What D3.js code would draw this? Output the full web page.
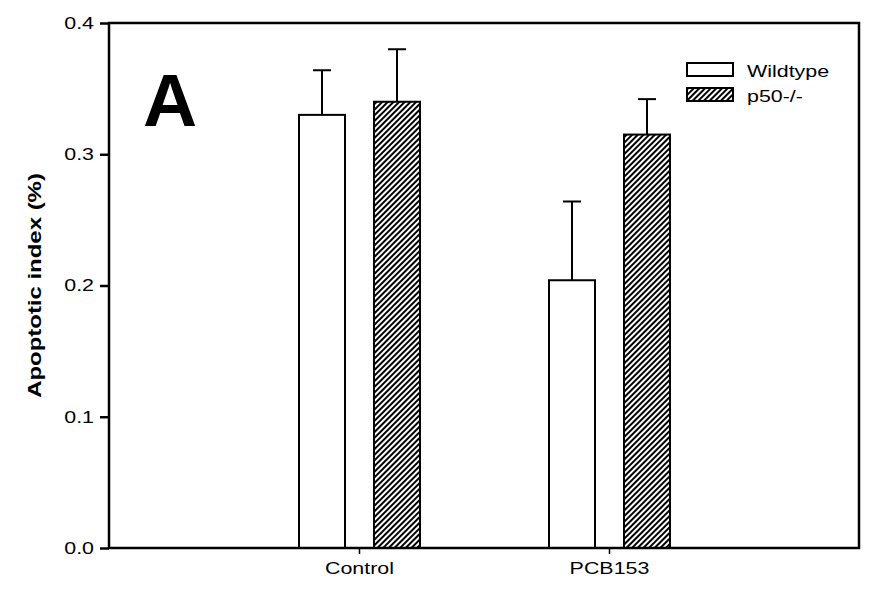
<!DOCTYPE html>
<html>
<head>
<meta charset="utf-8">
<script src="https://cdn.jsdelivr.net/npm/d3@7"></script>
<style>
  body { margin: 0; background: #fff; }
  svg text { font-family: "Liberation Sans", Arial, sans-serif; }
</style>
</head>
<body>
<div id="chart"></div>
<script>
// data
const categories = ["Control", "PCB153"];
const seriesNames = ["Wildtype", "p50-/-"];
const wildtypeMeans = [0.33, 0.204];
const wildtypeErr = [0.034, 0.06];
const p50Means = [0.34, 0.315];
const p50Err = [0.04, 0.027];
const yTicks = [0.0, 0.1, 0.2, 0.3, 0.4];

const width = 878, height = 597;
const margin = { top: 23, right: 19, bottom: 49, left: 109 };
const innerW = width - margin.left - margin.right;
const innerH = height - margin.top - margin.bottom;
const stretch = 1.26; // the original lettering is wide

const svg = d3.select("#chart").append("svg")
    .attr("width", width)
    .attr("height", height);

// hatch pattern for p50-/-
const defs = svg.append("defs");
const pat = defs.append("pattern")
    .attr("id", "hatch")
    .attr("patternUnits", "userSpaceOnUse")
    .attr("width", 4)
    .attr("height", 4)
    .attr("patternTransform", "rotate(45)");
pat.append("rect").attr("width", 4).attr("height", 4).attr("fill", "#fff");
pat.append("rect").attr("x", 0).attr("width", 2.2).attr("height", 4).attr("fill", "#000")
    .attr("shape-rendering", "crispEdges");

const g = svg.append("g").attr("transform", `translate(${margin.left},${margin.top})`);

const x = d3.scalePoint().domain(categories).range([0, innerW]).padding(1);
const y = d3.scaleLinear().domain([0, 0.4]).range([innerH, 0]);

const barW = 46;
const offsets = [-60, 15]; // left edge of each bar relative to group centre

const rows = categories.map((c, i) => ({
    cat: c,
    bars: [
        { s: 0, v: wildtypeMeans[i], e: wildtypeErr[i] },
        { s: 1, v: p50Means[i], e: p50Err[i] }
    ]
}));

// error bars (drawn first so bar outline sits on top)
rows.forEach(r => {
    r.bars.forEach(b => {
        const cx = x(r.cat) + offsets[b.s] + barW / 2;
        g.append("line")
            .attr("x1", cx).attr("x2", cx)
            .attr("y1", y(b.v)).attr("y2", y(b.v + b.e))
            .attr("stroke", "#000").attr("stroke-width", 2);
        g.append("line")
            .attr("x1", cx - 9).attr("x2", cx + 9)
            .attr("y1", y(b.v + b.e)).attr("y2", y(b.v + b.e))
            .attr("stroke", "#000").attr("stroke-width", 2);
    });
});

rows.forEach(r => {
    g.selectAll(null)
        .data(r.bars)
        .enter().append("rect")
        .attr("x", d => x(r.cat) + offsets[d.s])
        .attr("y", d => y(d.v))
        .attr("width", barW)
        .attr("height", d => innerH - y(d.v))
        .attr("fill", d => d.s === 0 ? "#fff" : "url(#hatch)")
        .attr("stroke", "#000")
        .attr("stroke-width", 2);
});

// frame
g.append("rect")
    .attr("width", innerW).attr("height", innerH)
    .attr("fill", "none").attr("stroke", "#000").attr("stroke-width", 2.5);

// y axis
const yAxis = g.append("g")
    .call(d3.axisLeft(y).tickValues(yTicks).tickFormat(d3.format(".1f")).tickSize(9));
yAxis.select(".domain").remove();
yAxis.selectAll("line").attr("stroke-width", 2.5);
yAxis.selectAll("text")
    .attr("x", 0)
    .attr("transform", `translate(-15,0) scale(${stretch},1)`)
    .attr("font-size", 17).attr("fill", "#000")
    .attr("font-family", "Liberation Sans, Arial, sans-serif");

// x axis
const xAxis = g.append("g")
    .attr("transform", `translate(0,${innerH})`)
    .call(d3.axisBottom(x).tickSize(6).tickPadding(8));
xAxis.select(".domain").remove();
xAxis.selectAll("line").attr("stroke-width", 1.5);
xAxis.selectAll("text")
    .attr("transform", `scale(${stretch},1)`)
    .attr("font-size", 17).attr("fill", "#000")
    .attr("font-family", "Liberation Sans, Arial, sans-serif");

// y label
svg.append("text")
    .attr("transform", `translate(41,${margin.top + innerH / 2}) rotate(-90) scale(${stretch},1)`)
    .attr("text-anchor", "middle")
    .attr("font-size", 19)
    .attr("font-weight", "bold")
    .text("Apoptotic index (%)");

// panel letter
svg.append("text")
    .attr("x", 143)
    .attr("y", 126)
    .attr("font-size", 75)
    .attr("font-weight", "bold")
    .text("A");

// legend
const legend = svg.append("g").attr("transform", "translate(687,63)");
seriesNames.forEach((name, i) => {
    const lg = legend.append("g").attr("transform", `translate(0,${i * 25})`);
    lg.append("rect")
        .attr("width", 46).attr("height", 13)
        .attr("fill", i === 0 ? "#fff" : "url(#hatch)")
        .attr("stroke", "#000").attr("stroke-width", 2);
    lg.append("text")
        .attr("transform", `translate(60,14) scale(${stretch},1)`)
        .attr("font-size", 17)
        .text(name);
});
</script>
</body>
</html>
